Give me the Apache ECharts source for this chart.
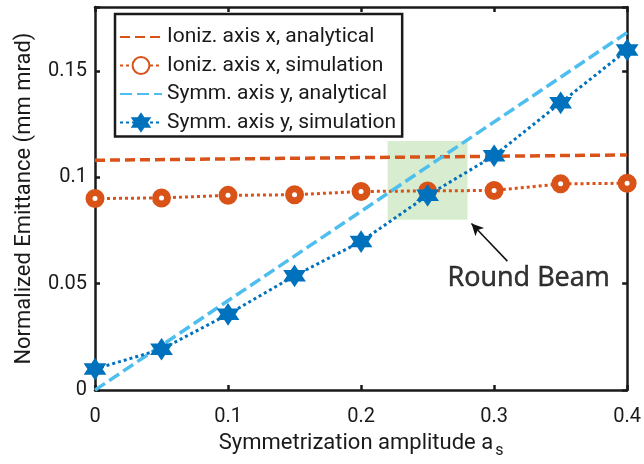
<!DOCTYPE html>
<html>
<head>
<meta charset="utf-8">
<script src="https://cdn.jsdelivr.net/npm/echarts@6/dist/echarts.min.js"></script>
<style>
  html, body { margin: 0; padding: 0; background: #fff; }
  #chart { width: 644px; height: 464px; }
</style>
</head>
<body>
<div id="chart"></div>
<script>
// Symmetrization amplitude sample points
const amplitude = [0, 0.05, 0.1, 0.15, 0.2, 0.25, 0.3, 0.35, 0.4];

// Ionization axis x
const ionizAnalyticalX = [0, 0.4];
const ionizAnalytical = [0.108, 0.1105];
const ionizSimulation = [0.0900, 0.0903, 0.0915, 0.0918, 0.0933, 0.0936, 0.0938, 0.0969, 0.0972];

// Symmetrized axis y
const symmAnalyticalX = [0, 0.4];
const symmAnalytical = [0, 0.168];
const symmSimulation = [0.0099, 0.0192, 0.0356, 0.0537, 0.0698, 0.0915, 0.1101, 0.1350, 0.1598];

// Axis ticks
const xTicks = [0, 0.1, 0.2, 0.3, 0.4];
const yTicks = [0, 0.05, 0.1, 0.15];

// Round-beam region and its annotation
const roundBeamBox = { x: [0.22, 0.28], y: [0.08, 0.117] };
const arrowFrom = [0.310, 0.0606];
const arrowTo = [0.283, 0.0783];
const labelAt = [0.326, 0.0527];
const labelText = 'Round Beam';

const ORANGE = '#D95319';
const CYAN = '#4DBEEE';
const BLUE = '#0072BD';
const INK = '#1a1a1a';
const FONT = 'Roboto';

const hexagram = 'path://M0,-10 L8.66,5 L-8.66,5 Z M0,10 L-8.66,-5 L8.66,-5 Z';

const pair = (xs, ys) => xs.map((x, i) => [x, ys[i]]);

const chart = echarts.init(document.getElementById('chart'), null, { renderer: 'canvas' });

const axisCommon = {
  type: 'value',
  axisLine: { show: true, onZero: false, lineStyle: { color: INK, width: 2.5 } },
  axisTick: { show: true, inside: true, length: 5, lineStyle: { color: INK, width: 2.5 } },
  splitLine: { show: false }
};

chart.setOption({
  animation: false,
  backgroundColor: '#fff',
  grid: { left: 95, right: 14, top: 7, bottom: 71 },
  xAxis: [
    Object.assign({}, axisCommon, {
      min: 0, max: 0.4, interval: 0.1, position: 'bottom',
      name: '{m|Symmetrization amplitude a}{s|s}',
      nameLocation: 'middle', nameGap: 36,
      nameTextStyle: {
        rich: {
          m: { fontFamily: FONT, fontSize: 22, color: INK },
          s: { fontFamily: FONT, fontSize: 16, color: INK, padding: [16, 0, 0, 2] }
        }
      },
      axisLabel: {
        fontFamily: FONT, fontSize: 20, color: INK, margin: 17,
        formatter: v => xTicks.includes(+v.toFixed(2)) ? String(+v.toFixed(2)) : ''
      }
    }),
    Object.assign({}, axisCommon, {
      min: 0, max: 0.4, interval: 0.1, position: 'top',
      axisLabel: { show: false }
    })
  ],
  yAxis: [
    Object.assign({}, axisCommon, {
      min: 0, max: 0.18, interval: 0.05, position: 'left',
      name: 'Normalized Emittance (mm mrad)',
      nameLocation: 'middle', nameGap: 60, nameRotate: 90,
      nameTextStyle: { fontFamily: FONT, fontSize: 22, color: INK },
      axisLabel: {
        fontFamily: FONT, fontSize: 20, color: INK, margin: 8,
        formatter: v => yTicks.includes(+v.toFixed(2)) ? String(+v.toFixed(2)) : ''
      }
    }),
    Object.assign({}, axisCommon, {
      min: 0, max: 0.18, interval: 0.05, position: 'right',
      axisLabel: { show: false }
    })
  ],
  legend: {
    orient: 'vertical',
    left: 115, top: 14,
    padding: [12, 6, 3, 4],
    itemGap: 6.5,
    itemWidth: 42, itemHeight: 21,
    backgroundColor: '#fff',
    borderColor: INK, borderWidth: 2.5, borderRadius: 0,
    textStyle: { fontFamily: FONT, fontSize: 21, color: INK, lineHeight: 22 },
    data: [
      { name: 'Ioniz. axis x, analytical', itemStyle: { opacity: 0 } },
      { name: 'Ioniz. axis x, simulation' },
      { name: 'Symm. axis y, analytical', itemStyle: { opacity: 0 } },
      { name: 'Symm. axis y, simulation' }
    ]
  },
  series: [
    {
      name: 'Ioniz. axis x, analytical',
      type: 'line',
      data: pair(ionizAnalyticalX, ionizAnalytical),
      showSymbol: false, symbol: 'none',
      lineStyle: { color: ORANGE, width: 3.5, type: [10, 5] },
      itemStyle: { color: ORANGE },
      z: 2
    },
    {
      name: 'Ioniz. axis x, simulation',
      type: 'line',
      data: pair(amplitude, ionizSimulation),
      symbol: 'circle', symbolSize: 12,
      lineStyle: { color: ORANGE, width: 3, type: [3, 3] },
      itemStyle: { color: '#fff', borderColor: ORANGE, borderWidth: 7 },
      z: 3
    },
    {
      name: 'Symm. axis y, analytical',
      type: 'line',
      data: pair(symmAnalyticalX, symmAnalytical),
      showSymbol: false, symbol: 'none',
      lineStyle: { color: CYAN, width: 3.5, type: [12, 5] },
      itemStyle: { color: CYAN },
      z: 4
    },
    {
      name: 'Symm. axis y, simulation',
      type: 'line',
      data: pair(amplitude, symmSimulation),
      symbol: hexagram, symbolSize: [20, 20],
      lineStyle: { color: BLUE, width: 3, type: [3, 3] },
      itemStyle: { color: BLUE, borderColor: BLUE, borderWidth: 1.5 },
      z: 5
    },
    {
      // Round beam highlight and arrow
      type: 'line',
      data: [],
      silent: true,
      z: 10,
      markArea: {
        silent: true,
        itemStyle: { color: 'rgba(125,195,95,0.3)' },
        data: [[
          { coord: [roundBeamBox.x[0], roundBeamBox.y[1]] },
          { coord: [roundBeamBox.x[1], roundBeamBox.y[0]] }
        ]]
      },
      markLine: {
        silent: true,
        symbol: ['none', 'arrow'],
        symbolSize: [9, 12],
        label: { show: false },
        lineStyle: { color: '#111', width: 1.5, type: 'solid' },
        data: [[{ coord: arrowFrom }, { coord: arrowTo }]]
      }
    },
    {
      // Caption for the round beam point
      type: 'scatter',
      silent: true,
      symbol: 'circle',
      symbolSize: 2,
      itemStyle: { color: 'rgba(0,0,0,0)' },
      z: 11,
      data: [labelAt],
      label: {
        show: true, position: 'inside',
        formatter: labelText,
        fontFamily: 'Open Sans', fontSize: 27, color: '#000',
        textBorderColor: '#000', textBorderWidth: 0.5
      }
    }
  ]
});
</script>
</body>
</html>
